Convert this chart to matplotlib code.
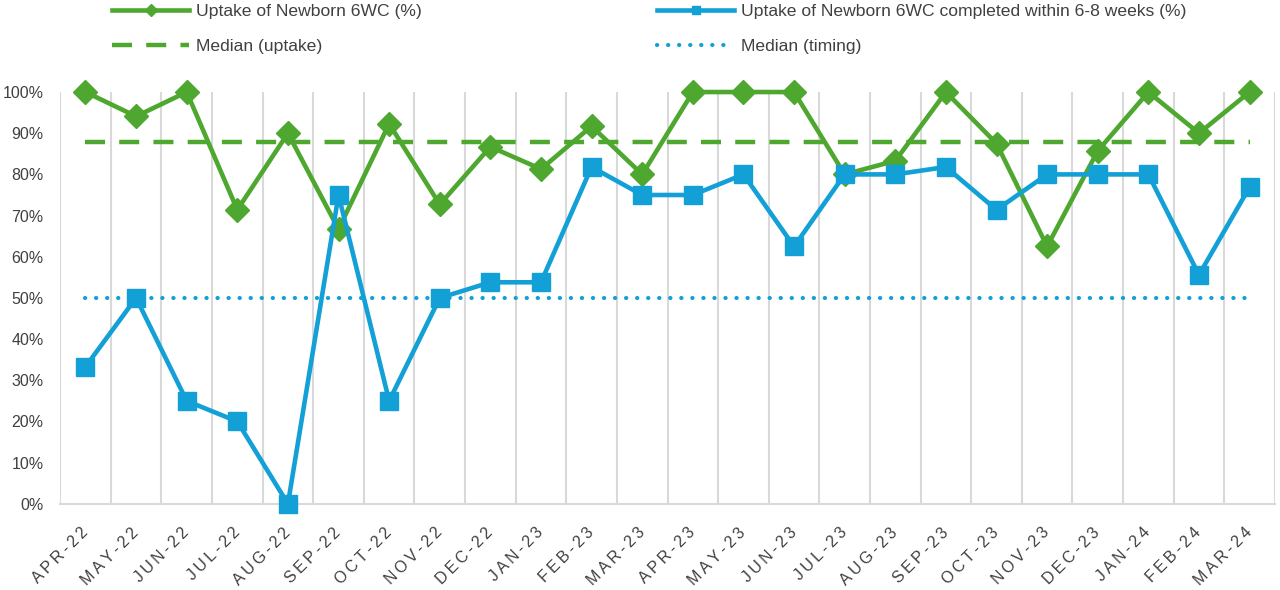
import numpy as np
import matplotlib.pyplot as plt
from matplotlib.lines import Line2D

plt.rcParams['font.family'] = ['Liberation Sans', 'DejaVu Sans']

# Data
months = ["APR-22", "MAY-22", "JUN-22", "JUL-22", "AUG-22", "SEP-22", "OCT-22", "NOV-22",
          "DEC-22", "JAN-23", "FEB-23", "MAR-23", "APR-23", "MAY-23", "JUN-23", "JUL-23",
          "AUG-23", "SEP-23", "OCT-23", "NOV-23", "DEC-23", "JAN-24", "FEB-24", "MAR-24"]
uptake = [100, 94.1, 100, 71.4, 90.0, 66.7, 92.3, 72.7, 86.7, 81.3, 91.7, 80.0,
          100, 100, 100, 80.0, 83.3, 100, 87.5, 62.5, 85.7, 100, 90.0, 100]
timing = [33.3, 50.0, 25.0, 20.0, 0.0, 75.0, 25.0, 50.0, 53.8, 53.8, 81.8, 75.0,
          75.0, 80.0, 62.5, 80.0, 80.0, 81.8, 71.4, 80.0, 80.0, 80.0, 55.6, 76.9]
median_uptake = 87.9
median_timing = 50.0

green = "#4EA72E"
blue = "#12A0D7"
dash = (0, (4.5, 3.2))
dots = (0, (0.05, 2.6))

x = np.arange(len(months))

fig = plt.figure(figsize=(12.8, 5.9), dpi=100)
ax = fig.add_axes([0.047, 0.146, 0.949, 0.698])

ax.plot(x, [median_uptake] * len(x), color=green, lw=3.2, linestyle=dash,
        solid_capstyle="butt", zorder=2)
ax.plot(x, [median_timing] * len(x), color=blue, lw=3.0, linestyle=dots,
        dash_capstyle="round", zorder=2)
ax.plot(x, uptake, color=green, lw=3.3, marker="D", markersize=12, zorder=3, clip_on=False)
ax.plot(x, timing, color=blue, lw=3.3, marker="s", markersize=13.5, zorder=4, clip_on=False)

ax.set_xlim(-0.5, len(months) - 0.5)
ax.set_ylim(0, 100)
ax.set_yticks(np.arange(0, 101, 10))
ax.set_yticklabels([f"{v}%" for v in range(0, 101, 10)])
ax.set_xticks(x)
# Excel-style letter spacing on the month labels
spaced = ["\u2009".join(m) for m in months]
ax.set_xticklabels(spaced, rotation=45, ha="right", va="center", rotation_mode="anchor")
ax.set_xticks(np.arange(-0.5, len(months), 1), minor=True)
ax.grid(True, which="minor", axis="x", color="#d9d9d9", lw=1.5)
ax.tick_params(axis="both", which="both", length=0, labelsize=11.5, colors="#404040")
ax.tick_params(axis="y", pad=12)
ax.tick_params(axis="x", pad=19)
for s in ["top", "right", "left"]:
    ax.spines[s].set_visible(False)
ax.spines["bottom"].set_color("#d9d9d9")
ax.spines["bottom"].set_linewidth(1.5)

handles = [
    Line2D([], [], color=green, lw=3.3, marker="D", markersize=6),
    Line2D([], [], color=green, lw=3.2, linestyle=dash),
    Line2D([], [], color=blue, lw=3.3, marker="s", markersize=6),
    Line2D([], [], color=blue, lw=3.0, linestyle=dots, dash_capstyle="round"),
]
labels = ["Uptake of Newborn 6WC (%)", "Median (uptake)",
          "Uptake of Newborn 6WC completed within 6-8 weeks (%)", "Median (timing)"]
fig.legend(handles, labels, ncol=2, loc="upper left", bbox_to_anchor=(0.0875, 0.994),
           frameon=False, fontsize=12.6, handlelength=4.4, handletextpad=0.4,
           columnspacing=13.45, labelspacing=1.15, borderpad=0, borderaxespad=0,
           labelcolor="#404040")

fig.savefig("out.png", dpi=100)
